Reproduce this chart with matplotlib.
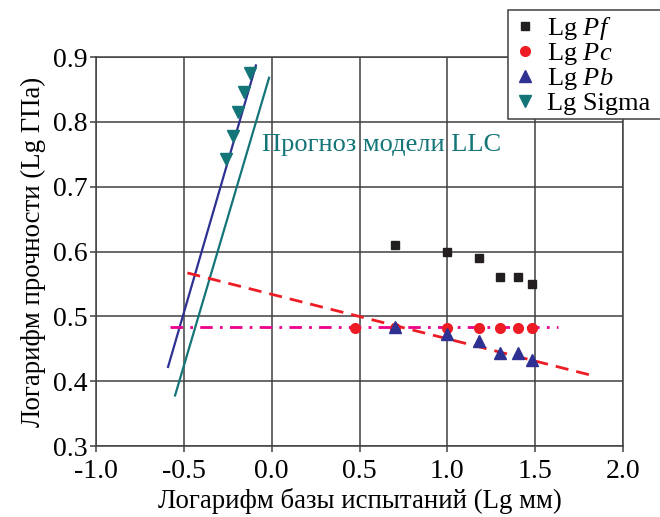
import matplotlib
matplotlib.use("Agg")
import matplotlib.pyplot as plt
import matplotlib.patches as patches

plt.rcParams['font.family'] = ['Liberation Serif', 'DejaVu Serif']
plt.rcParams['mathtext.fontset'] = 'custom'
plt.rcParams['mathtext.rm'] = 'Liberation Serif'
plt.rcParams['mathtext.it'] = 'Liberation Serif:italic'

# measured points
pf_x = [0.70, 1.00, 1.18, 1.30, 1.40, 1.48]
pf_y = [0.61, 0.60, 0.59, 0.56, 0.56, 0.55]

pc_x = [0.475, 0.70, 1.00, 1.18, 1.30, 1.40, 1.48]
pc_y = [0.482, 0.482, 0.482, 0.482, 0.482, 0.482, 0.482]

pb_x = [0.70, 1.00, 1.18, 1.30, 1.40, 1.48]
pb_y = [0.483, 0.473, 0.462, 0.443, 0.443, 0.433]

sig_x = [-0.26, -0.22, -0.19, -0.16, -0.125]
sig_y = [0.742, 0.778, 0.815, 0.846, 0.876]

# fitted / model lines (end points)
blue_x = [-0.59, -0.09]
blue_y = [0.422, 0.887]
teal_x = [-0.55, -0.015]
teal_y = [0.378, 0.868]
red_x = [-0.48, 1.85]
red_y = [0.567, 0.407]
mag_x = [-0.58, 1.63]
mag_y = [0.483, 0.483]

xticks = [-1.0, -0.5, 0.0, 0.5, 1.0, 1.5, 2.0]
yticks = [0.3, 0.4, 0.5, 0.6, 0.7, 0.8, 0.9]

c_black = '#231f20'
c_red = '#ed1c24'
c_navy = '#2e3192'
c_teal = '#137578'
c_mag = '#ec008c'
c_grid = '#404040'

W, H = 660, 517
fig = plt.figure(figsize=(6.6, 5.17), dpi=100)
ax = fig.add_axes([0.1455, 0.1373, 0.7985, 0.7524])

ax.set_xlim(-1.0, 2.0)
ax.set_ylim(0.3, 0.9)
ax.set_xticks(xticks)
ax.set_yticks(yticks)
ax.set_xticklabels(['%.1f' % v for v in xticks])
ax.set_yticklabels(['%.1f' % v for v in yticks])
ax.grid(True, color=c_grid, linewidth=1.1)
ax.set_axisbelow(True)
for s in ax.spines.values():
    s.set_color(c_grid)
    s.set_linewidth(1.1)
ax.tick_params(direction='out', length=4, width=1.1, color=c_grid,
               labelsize=20)
ax.tick_params(axis='x', pad=5)
ax.tick_params(axis='y', pad=2)

ax.plot(blue_x, blue_y, color=c_navy, lw=1.6)
ax.plot(teal_x, teal_y, color=c_teal, lw=1.6)
ax.plot(red_x, red_y, color=c_red, lw=2.0, dashes=(4.7, 2.9))
ax.plot(mag_x, mag_y, color=c_mag, lw=2.0, dashes=(4.5, 2.6, 1.0, 2.6))

h1, = ax.plot(pf_x, pf_y, 's', color=c_black, ms=6, ls='none', label=r'Lg $\mathit{Pf}$')
h2, = ax.plot(pc_x, pc_y, 'o', color=c_red, ms=7, ls='none', label=r'Lg $\mathit{Pc}$')
h3, = ax.plot(pb_x, pb_y, '^', color=c_navy, ms=8, ls='none', label=r'Lg $\mathit{Pb}$')
h4, = ax.plot(sig_x, sig_y, 'v', color=c_teal, ms=8, ls='none', label='Lg Sigma')

ax.text(-0.055, 0.755, 'Прогноз модели LLC', color=c_teal, fontsize=19)

ax.set_xlabel('Логарифм базы испытаний (Lg мм)', fontsize=19.3, labelpad=3)
ax.set_ylabel('Логарифм прочности (Lg ГПа)', fontsize=19.3, labelpad=5)

# legend box runs off the right edge of the figure
box = patches.Rectangle((508 / W, 1 - 119 / H), 170 / W, 109 / H,
                        transform=fig.transFigure, facecolor='white',
                        edgecolor=c_grid, linewidth=1.1, zorder=4)
fig.patches.append(box)

leg = fig.legend(handles=[h1, h2, h3, h4], loc='upper left',
                 bbox_to_anchor=(514 / W, 1 - 15 / H), fontsize=19,
                 frameon=False, handlelength=0.8, handletextpad=0.45,
                 labelspacing=-0.03, borderpad=0, borderaxespad=0)
leg.set_zorder(5)

fig.savefig('out.png', dpi=100)
